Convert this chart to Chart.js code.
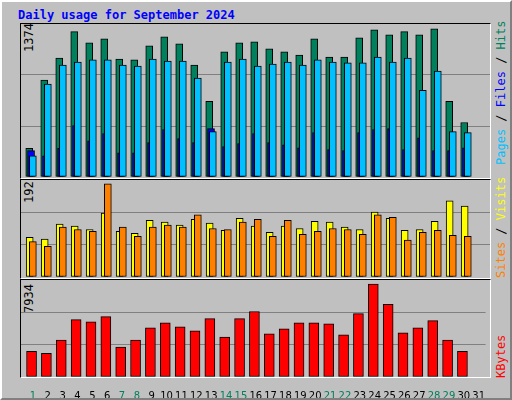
<!DOCTYPE html>
<html>
<head>
<meta charset="utf-8">
<script src="https://cdn.jsdelivr.net/npm/chart.js@4"></script>
<style>
  body { margin: 0; background: #fff; }
  #frame { position: absolute; left: 0; top: 0; width: 508px; height: 396px; background: #c0c0c0;
    border-top: 2px solid #fff; border-left: 2px solid #fff; border-right: 2px solid #808080; border-bottom: 2px solid #808080; }
  .panel { position: absolute; left: 20px; width: 469px; border-top: 1px solid #000; border-left: 1px solid #000;
    border-right: 1px solid #fff; border-bottom: 1px solid #fff; }
  .box { position: absolute; }
  .txt { position: absolute; font-family: "DejaVu Sans Mono", monospace; font-size: 12px; white-space: nowrap; }
  .rot { transform: rotate(-90deg); transform-origin: left top; }
</style>
</head>
<body>
<div id="frame"></div>
<div class="txt" style="left:18px;top:8px;color:#0000ff;font-weight:bold">Daily usage for September 2024</div>
<div class="panel" style="top:23px;height:154px"></div>
<div class="panel" style="top:179px;height:98px"></div>
<div class="panel" style="top:279px;height:97px"></div>
<div class="txt rot" style="left:22px;top:52px;color:#000">1374</div>
<div class="txt rot" style="left:22px;top:203px;color:#000">192</div>
<div class="txt rot" style="left:22px;top:313px;color:#000">7934</div>
<div class="txt rot" style="left:494px;top:165px"><span style="color:#00c0ff">Pages</span> / <span style="color:#0000ff">Files</span> / <span style="color:#00805c">Hits</span></div>
<div class="txt rot" style="left:494px;top:278px"><span style="color:#ff8000">Sites</span> / <span style="color:#ffff00">Visits</span></div>
<div class="txt rot" style="left:494px;top:378px;color:#ff0000">KBytes</div>
<div class="box" style="left:21px;top:24px;width:469px;height:153px"><canvas id="c1"></canvas></div>
<div class="box" style="left:21px;top:180px;width:469px;height:97px"><canvas id="c2"></canvas></div>
<div class="box" style="left:21px;top:280px;width:469px;height:118px"><canvas id="c3"></canvas></div>
<script>
const days = Array.from({ length: 30 }, (_, i) => i + 1)
const weekendDays = [1, 7, 8, 14, 15, 21, 22, 28, 29]

const hits = [265, 898, 1103, 1347, 1244, 1281, 1094, 1085, 1216, 1299, 1234, 1038, 702, 1159, 1244, 1253, 1188, 1159, 1131, 1281, 1112, 1112, 1290, 1365, 1318, 1347, 1318, 1374, 702, 505]
const files = [196, 861, 1038, 1066, 1085, 1085, 1038, 1029, 1094, 1075, 1075, 916, 421, 1066, 1094, 1029, 1047, 1066, 1038, 1085, 1066, 1057, 1057, 1112, 1066, 1103, 804, 981, 421, 412]
const pages = [244, 196, 265, 477, 336, 402, 224, 224, 318, 440, 355, 318, 449, 281, 309, 402, 318, 299, 271, 412, 253, 244, 412, 440, 449, 253, 364, 244, 244, 271]
const visits = [82, 78, 109, 105, 98, 132, 94, 90, 117, 113, 107, 119, 111, 96, 121, 105, 92, 105, 100, 115, 113, 103, 98, 134, 121, 96, 98, 115, 157, 146]
const sites = [73, 63, 103, 98, 94, 192, 103, 84, 103, 107, 103, 128, 100, 98, 113, 119, 84, 117, 88, 94, 100, 98, 88, 128, 123, 76, 92, 96, 86, 84]
const kbytes = [2201, 2027, 3157, 4894, 4720, 5155, 2548, 3157, 4199, 4634, 4286, 3939, 4981, 3417, 4981, 5589, 3678, 4112, 4634, 4634, 4547, 3591, 5416, 7934, 6197, 3765, 4199, 4807, 3157, 2201]

function pts(values, shift) {
  return values.map((v, i) => ({ x: days[i] + shift, y: v }))
}

// lower order = drawn on top
function bars(values, shift, color, width, order) {
  return { data: pts(values, shift), backgroundColor: color, borderColor: '#000', borderWidth: 1, barThickness: width, grouped: false, borderSkipped: false, order }
}

function makeChart(id, datasets, top, showX) {
  return new Chart(document.getElementById(id), {
    type: 'bar',
    data: { datasets },
    options: {
      animation: false,
      responsive: true,
      maintainAspectRatio: false,
      layout: { padding: 0 },
      plugins: { legend: { display: false }, tooltip: { enabled: false } },
      scales: {
        x: {
          type: 'linear', min: 0.2, max: 31.47, offset: false,
          display: showX,
          grid: { display: false },
          border: { display: false },
          afterFit: s => { if (showX) s.height = 21; else s.height = 0 },
          afterBuildTicks: s => { s.ticks = Array.from({ length: 31 }, (_, i) => ({ value: i + 1 })) },
          ticks: {
            autoSkip: false, maxRotation: 0, padding: 5,
            font: { family: 'DejaVu Sans', size: 10 },
            color: c => weekendDays.includes(c.tick.value) ? '#00805c' : '#000',
            callback: v => String(v)
          }
        },
        y: {
          min: 0, max: top,
          afterBuildTicks: s => { s.ticks = [0, 1, 2, 3].map(k => ({ value: top * k / 3 })) },
          afterFit: s => { s.width = 0 },
          ticks: { display: false },
          border: { display: false },
          grid: { drawTicks: false, color: c => (c.index === 1 || c.index === 2) ? '#808080' : 'rgba(0,0,0,0)' }
        }
      }
    }
  })
}

makeChart('c1', [
  bars(hits, -0.25, '#00805c', 7, 3),
  bars(pages, -0.13, '#0000ff', 7, 2),
  bars(files, -0.01, '#00c0ff', 7, 1)
], 1418, false)

makeChart('c2', [
  bars(visits, -0.22, '#ffff00', 7, 2),
  bars(sites, -0.01, '#ff8000', 7, 1)
], 200, false)

makeChart('c3', [
  bars(kbytes, -0.09, '#ff0000', 10, 1)
], 8282, true)
</script>
</body>
</html>
